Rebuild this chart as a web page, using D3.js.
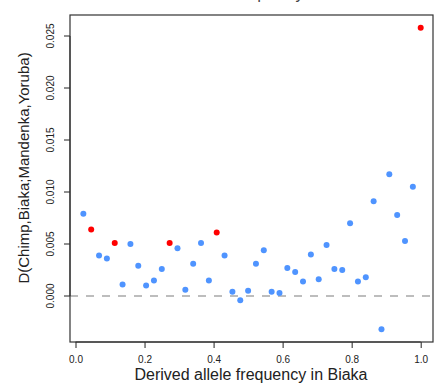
<!DOCTYPE html>
<html>
<head>
<meta charset="utf-8">
<script src="https://cdn.jsdelivr.net/npm/d3@7"></script>
<style>
  body { margin: 0; background: #fff; }
  text { font-family: "Liberation Sans", Arial, sans-serif; }
</style>
</head>
<body>
<div id="scatter"></div>
<script>
// derived allele frequency bins (k/44) and D values
var freq = d3.range(1, 45).map(k => k / 44);
var dValues = [0.0079, 0.0064, 0.0039, 0.0036, 0.0051, 0.0011, 0.0050, 0.0029, 0.0010, 0.0015,
               0.0026, 0.0051, 0.0046, 0.0006, 0.0031, 0.0051, 0.0015, 0.0061, 0.0039, 0.0004,
               -0.0004, 0.0005, 0.0031, 0.0044, 0.0004, 0.0003, 0.0027, 0.0023, 0.0014, 0.0040,
               0.0016, 0.0049, 0.0026, 0.0025, 0.0070, 0.0014, 0.0018, 0.0091, -0.0032, 0.0117,
               0.0078, 0.0053, 0.0105, 0.0258];
// which bins are highlighted in red
var highlight = [2, 5, 12, 18, 44];
var xTicks = [0, 0.2, 0.4, 0.6, 0.8, 1.0];
var yTicks = [0, 0.005, 0.010, 0.015, 0.020, 0.025];

var data = freq.map((f, i) => ({ freq: f, d: dValues[i], red: highlight.indexOf(i + 1) >= 0 }));

var svgWidth = 443, svgHeight = 387;
var box = { left: 70, right: 433, top: 15, bottom: 342 };

var svg = d3.select("#scatter").append("svg")
    .attr("width", svgWidth)
    .attr("height", svgHeight);

var x = d3.scaleLinear().domain([0, 1]).range([75.5, 420.7]);
var y = d3.scaleLinear().domain([0, 0.025]).range([296, 36]);

// title (cut by the top edge, as in the original)
svg.append("text")
    .attr("x", (box.left + box.right) / 2)
    .attr("y", -1)
    .attr("text-anchor", "middle")
    .attr("font-size", "16px")
    .attr("fill", "#444")
    .text("D-statistic vs frequency in Biaka");

// zero line
svg.append("line")
    .attr("x1", box.left).attr("x2", box.right)
    .attr("y1", y(0)).attr("y2", y(0))
    .attr("stroke", "#bdbdbd")
    .attr("stroke-width", 2)
    .attr("stroke-dasharray", "8,8");

// axes
var bottomAxis = d3.axisBottom(x).tickValues(xTicks).tickSize(6).tickPadding(8)
    .tickFormat(d3.format(".1f"));
var gx = svg.append("g")
    .attr("transform", `translate(0, ${box.bottom})`)
    .call(bottomAxis);
gx.select(".domain").attr("d", `M${x(0)},0H${x(1)}`).attr("stroke", "#222");
gx.selectAll("text").attr("font-size", "10px").attr("fill", "#222")
    .attr("font-family", "Liberation Sans, Arial, sans-serif");
gx.selectAll("line").attr("stroke", "#222");

var leftAxis = d3.axisLeft(y).tickValues(yTicks).tickSize(6).tickFormat(d3.format(".3f"));
var gy = svg.append("g")
    .attr("transform", `translate(${box.left}, 0)`)
    .call(leftAxis);
gy.select(".domain").attr("d", `M0,${y(0)}V${y(0.025)}`).attr("stroke", "#222");
gy.selectAll("line").attr("stroke", "#222");
gy.selectAll("text")
    .attr("font-size", "10px").attr("fill", "#222")
    .attr("font-family", "Liberation Sans, Arial, sans-serif")
    .attr("text-anchor", "middle")
    .attr("dy", null)
    .attr("x", null)
    .attr("transform", d => `translate(-16, ${y(d)}) rotate(-90)`)
    .attr("y", 0);
gy.selectAll(".tick").attr("transform", null);
gy.selectAll(".tick line").attr("y1", d => y(d)).attr("y2", d => y(d));

// box
svg.append("rect")
    .attr("x", box.left).attr("y", box.top)
    .attr("width", box.right - box.left)
    .attr("height", box.bottom - box.top)
    .attr("fill", "none")
    .attr("stroke", "#333")
    .attr("stroke-width", 1.2);

// points
svg.selectAll("circle")
    .data(data)
    .enter()
    .append("circle")
    .attr("cx", d => x(d.freq))
    .attr("cy", d => y(d.d))
    .attr("r", 3)
    .attr("fill", d => d.red ? "#ff0000" : "#4f94ff");

// axis titles
svg.append("text")
    .attr("transform", "translate(29, 168) rotate(-90)")
    .attr("text-anchor", "middle")
    .attr("font-size", "15px")
    .attr("fill", "#222")
    .text("D(Chimp,Biaka;Mandenka,Yoruba)");

svg.append("text")
    .attr("x", 251)
    .attr("y", 380)
    .attr("text-anchor", "middle")
    .attr("font-size", "16px")
    .attr("fill", "#222")
    .text("Derived allele frequency in Biaka");
</script>
</body>
</html>
